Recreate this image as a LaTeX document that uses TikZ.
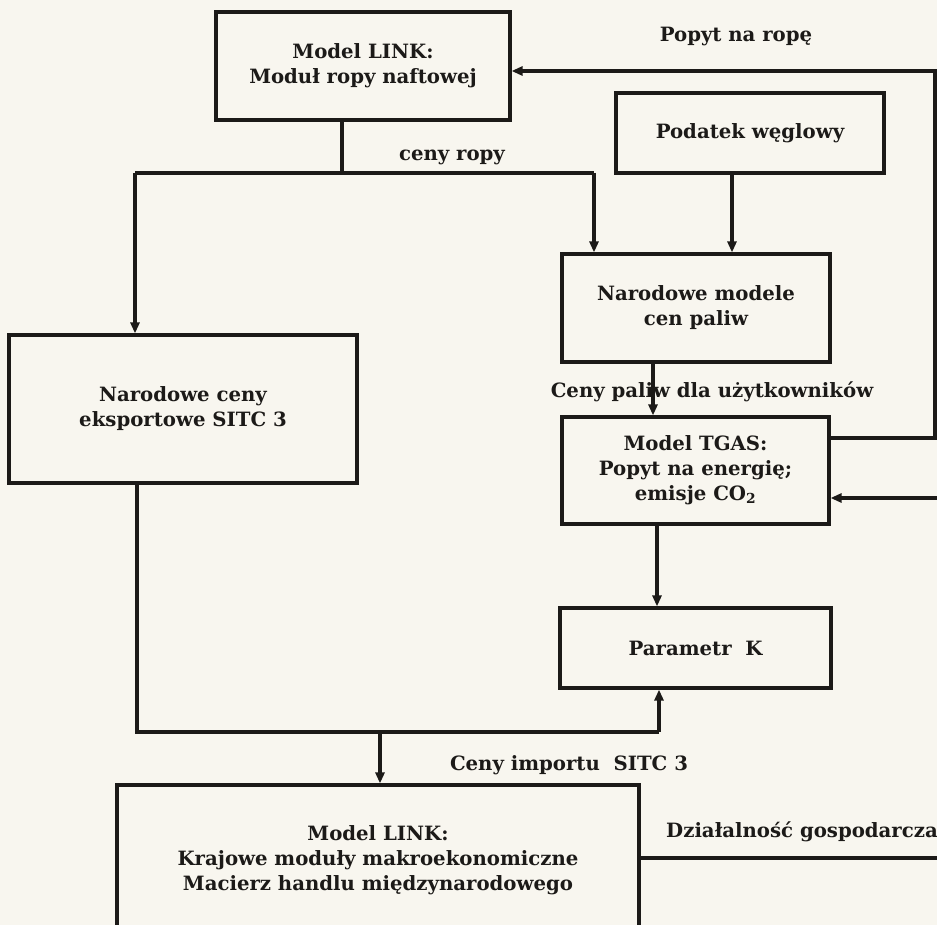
\documentclass[tikz,border=0pt]{standalone}
\usepackage{fontspec}
\setmainfont{DejaVu Serif}
\usetikzlibrary{arrows.meta}
\definecolor{paper}{RGB}{248,246,239}
\definecolor{ink}{RGB}{28,26,24}
\tikzset{
  box/.style={draw=ink, line width=3.2pt, minimum width=#1, inner sep=0pt, align=center, text=ink,
              font=\bfseries\fontsize{19.7}{25}\selectfont},
  lbl/.style={text=ink, inner sep=0pt, font=\bfseries\fontsize{19.7}{25}\selectfont},
  wire/.style={draw=ink, line width=3.2pt},
  arr/.style={wire, -{Triangle[length=11pt,width=9pt]}}
}
\begin{document}
\begin{tikzpicture}[x=1pt,y=-1pt]
\fill[paper] (0,0) rectangle (937,925);
\useasboundingbox (0,0) rectangle (937,925);

% boxes
\node[box=294pt, minimum height=108pt] (linkoil) at (363,66) {Model LINK:\\Moduł ropy naftowej};
\node[box=268pt, minimum height=80pt] (tax) at (750,133) {Podatek węglowy};
\node[box=268pt, minimum height=108pt] (natmod) at (696,308) {Narodowe modele\\cen paliw};
\node[box=348pt, minimum height=148pt] (export) at (183,409) {Narodowe ceny\\eksportowe SITC 3};
\node[box=267pt, minimum height=107pt] (tgas) at (695.5,470.5) {Model TGAS:\\Popyt na energię;\\emisje CO\textsubscript{2}};
\node[box=271pt, minimum height=80pt] (param) at (695.5,648) {Parametr\ \ K};
\node[box=522pt, minimum height=150pt] (link) at (378,860) {Model LINK:\\Krajowe moduły makroekonomiczne\\Macierz handlu międzynarodowego};

% labels
\node[lbl] (lpopyt) at (736,37) {Popyt na ropę};
\node[lbl] (lceny) at (452,157) {ceny ropy};
\node[lbl] (lpaliw) at (712,392) {Ceny paliw dla użytkowników};
\node[lbl] (limport) at (569,765) {Ceny importu\ \ SITC 3};
\node[lbl] (ldzial) at (802,832) {Działalność gospodarcza};

% helper coordinates
\coordinate (oilx) at (342,173);
\coordinate (cL) at (135,173);
\coordinate (cR) at (594,173);
\coordinate (taxx) at (732,0);
\coordinate (fuelx) at (653,0);
\coordinate (tgx) at (657,0);
\coordinate (rtop) at (935,71);
\coordinate (rmid) at (935,438);
\coordinate (bL) at (137,732);
\coordinate (bR) at (659,732);
\coordinate (bM) at (380,732);
\coordinate (ecoR) at (947,858);
\coordinate (ecoT) at (947,498);

% connectors
\draw[wire] (linkoil.south -| oilx) -- (oilx);
\draw[wire] (cL) -- (cR);
\draw[arr] (cL) -- (cL |- export.north);
\draw[arr] (cR) -- (cR |- natmod.north);
\draw[arr] (tax.south -| taxx) -- (natmod.north -| taxx);
\draw[arr] (natmod.south -| fuelx) -- (tgas.north -| fuelx);
\draw[arr] (tgas.east |- rmid) -- (rmid) -- (rtop) -- (linkoil.east |- rtop);
\draw[arr] (tgas.south -| tgx) -- (param.north -| tgx);
\draw[wire] (export.south -| bL) -- (bL) -- (bR);
\draw[arr] (bR) -- (param.south -| bR);
\draw[arr] (bM) -- (link.north -| bM);
\draw[arr] (link.east |- ecoR) -- (ecoR) -- (ecoT) -- (tgas.east |- ecoT);
\end{tikzpicture}
\end{document}
